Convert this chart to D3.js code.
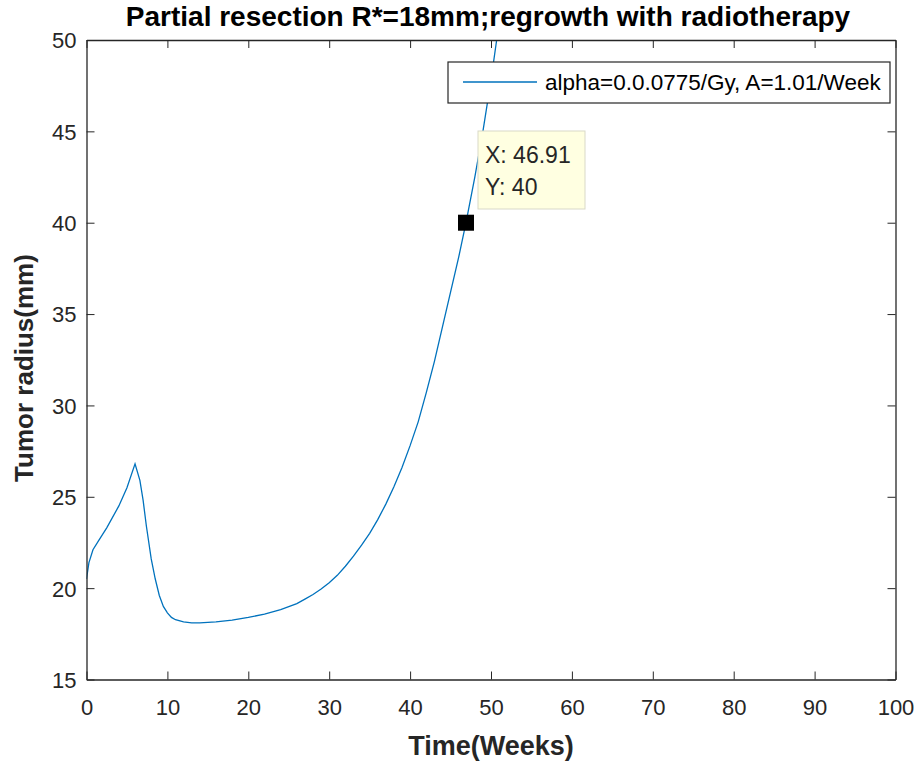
<!DOCTYPE html>
<html>
<head>
<meta charset="utf-8">
<script src="https://cdn.jsdelivr.net/npm/d3@7"></script>
<style>
  html, body { margin: 0; padding: 0; background: #ffffff; }
  svg { display: block; }
  text { font-family: "Liberation Sans", Arial, Helvetica, sans-serif; }
</style>
</head>
<body>
<svg id="chart" width="919" height="765"></svg>
<script>
// ---- Data ----
const weeks = [0, 0.3, 0.8, 1.5, 2.5, 4, 5, 6, 6.6, 7, 7.4, 8, 8.5, 9, 9.5, 10, 10.5, 11, 12, 13, 14, 16, 18, 20, 22, 24, 26, 27, 28, 29, 30, 31, 32, 33, 34, 35, 36, 37, 38, 39, 40, 41, 42, 43, 44, 45, 46, 46.91, 48, 49, 50, 50.7, 51.3];
const radius = [20.5, 21.4, 22.1, 22.6, 23.3, 24.5, 25.5, 26.8, 25.9, 24.8, 23.4, 21.6, 20.5, 19.6, 19.0, 18.65, 18.4, 18.27, 18.15, 18.1, 18.1, 18.15, 18.25, 18.4, 18.58, 18.82, 19.15, 19.4, 19.65, 19.95, 20.3, 20.7, 21.2, 21.75, 22.35, 23.0, 23.75, 24.6, 25.55, 26.6, 27.8, 29.1, 30.7, 32.4, 34.3, 36.2, 38.1, 40.0, 42.5, 45.0, 47.8, 50.0, 52.0];
const xTicks = [0, 10, 20, 30, 40, 50, 60, 70, 80, 90, 100];
const yTicks = [15, 20, 25, 30, 35, 40, 45, 50];
const titleText = "Partial resection R*=18mm;regrowth with radiotherapy";
const xLabel = "Time(Weeks)";
const yLabel = "Tumor radius(mm)";
const legendLabel = "alpha=0.0.0775/Gy, A=1.01/Week";
const tipPoint = [46.91, 40];
const tipLines = ["X: 46.91", "Y: 40"];

// ---- Layout ----
const pL = 86.5, pR = 895.5, pT = 40, pB = 679.5;
const svg = d3.select("#chart");
const axisColor = "#262626";
const lineColor = "#0072BD";

const x = d3.scaleLinear().domain([0, 100]).range([pL, pR]);
const y = d3.scaleLinear().domain([15, 50]).range([pB, pT]);

svg.append("rect").attr("x", pL).attr("y", pT)
  .attr("width", pR - pL).attr("height", pB - pT).attr("fill", "#fff");

svg.append("defs").append("clipPath").attr("id", "plotclip")
  .append("rect").attr("x", pL).attr("y", pT)
  .attr("width", pR - pL).attr("height", pB - pT);

const line = d3.line().x((d, i) => x(weeks[i])).y(d => y(d));
svg.append("path")
  .attr("clip-path", "url(#plotclip)")
  .attr("d", line(radius))
  .attr("fill", "none")
  .attr("stroke", lineColor)
  .attr("stroke-width", 1.3);

const tickLen = 8;
const fontTick = 22;
const bottomAxis = d3.axisBottom(x).tickValues(xTicks).tickSizeInner(-tickLen).tickSizeOuter(0).tickPadding(20);
const leftAxis = d3.axisLeft(y).tickValues(yTicks).tickSizeInner(-tickLen).tickSizeOuter(0).tickPadding(20);
const topAxis = d3.axisTop(x).tickValues(xTicks).tickSizeInner(-tickLen).tickSizeOuter(0).tickFormat("");
const rightAxis = d3.axisRight(y).tickValues(yTicks).tickSizeInner(-tickLen).tickSizeOuter(0).tickFormat("");

function styleAxis(g) {
  g.selectAll("path").attr("stroke", axisColor).attr("stroke-width", 1.3);
  g.selectAll("line").attr("stroke", axisColor).attr("stroke-width", 1);
  g.selectAll("text").attr("fill", axisColor).style("font-size", fontTick + "px")
    .style("font-family", '"Liberation Sans", Arial, sans-serif');
}
const gb = svg.append("g").attr("transform", `translate(0,${pB})`).call(bottomAxis).call(styleAxis);
gb.selectAll("text").attr("dy", null).attr("y", 35);
const gl = svg.append("g").attr("transform", `translate(${pL},0)`).call(leftAxis).call(styleAxis);
gl.selectAll("text").attr("x", -10).attr("dy", "0.36em");
svg.append("g").attr("transform", `translate(0,${pT})`).call(topAxis).call(styleAxis);
svg.append("g").attr("transform", `translate(${pR},0)`).call(rightAxis).call(styleAxis);

svg.append("text").attr("x", 488).attr("y", 26)
  .attr("text-anchor", "middle").attr("font-weight", "bold")
  .attr("font-size", 28).attr("fill", "#000").text(titleText);
svg.append("text").attr("x", 491).attr("y", 755)
  .attr("text-anchor", "middle").attr("font-weight", "bold")
  .attr("font-size", 27).attr("fill", axisColor).text(xLabel);
svg.append("text")
  .attr("transform", `translate(33,368) rotate(-90)`)
  .attr("text-anchor", "middle").attr("font-weight", "bold")
  .attr("font-size", 26).attr("fill", axisColor).text(yLabel);

const lg = svg.append("g");
lg.append("rect").attr("x", 448).attr("y", 62).attr("width", 442).attr("height", 41)
  .attr("fill", "#fff").attr("stroke", "#262626").attr("stroke-width", 1.2);
lg.append("line").attr("x1", 463).attr("x2", 537).attr("y1", 82).attr("y2", 82)
  .attr("stroke", lineColor).attr("stroke-width", 1.3);
lg.append("text").attr("x", 545).attr("y", 90).attr("font-size", 22.5).attr("fill", "#000").text(legendLabel);

const tx = x(tipPoint[0]), ty = y(tipPoint[1]);
svg.append("rect").attr("x", 478).attr("y", 131).attr("width", 107).attr("height", 78)
  .attr("fill", "#ffffe1").attr("stroke", "#d9d9c8").attr("stroke-width", 1);
svg.append("g").selectAll("text").data(tipLines).join("text")
  .attr("x", 485).attr("y", (d, i) => 163 + i * 32)
  .attr("font-size", 23).attr("fill", "#262626").text(d => d);
svg.append("rect").attr("x", tx - 8).attr("y", ty - 8).attr("width", 16).attr("height", 16)
  .attr("fill", "#000");
</script>
</body>
</html>
